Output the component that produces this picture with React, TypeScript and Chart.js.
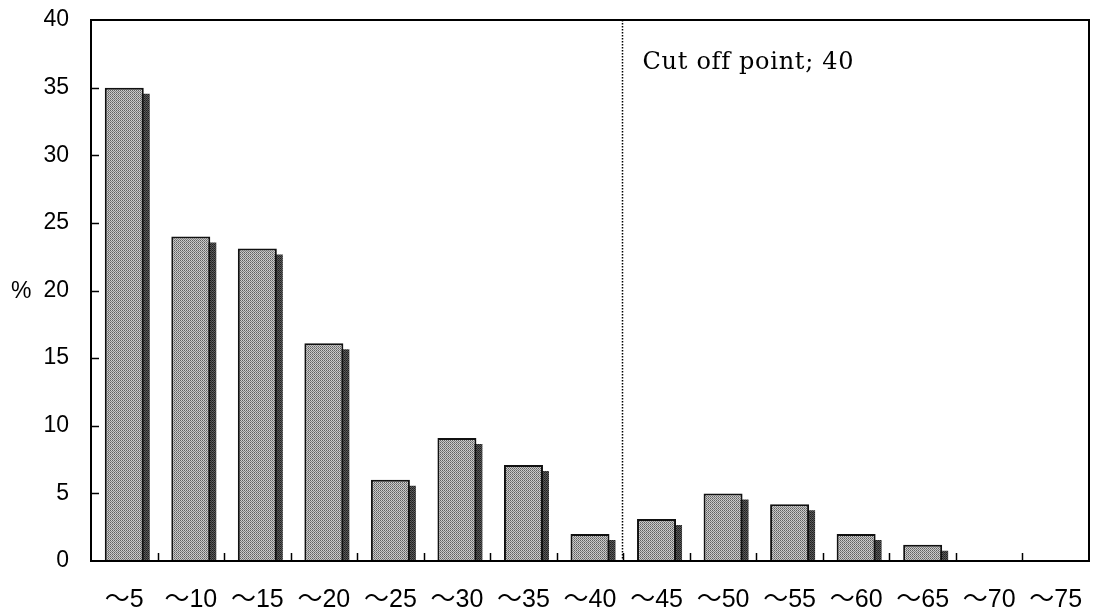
import React, { useEffect, useRef } from "react";
import { Chart, registerables } from "chart.js";

Chart.register(...registerables);

const categories = ["～5", "～10", "～15", "～20", "～25", "～30", "～35", "～40", "～45", "～50", "～55", "～60", "～65", "～70", "～75"];
const percentValues = [35, 24, 23.1, 16.1, 6, 9.1, 7.1, 2, 3.1, 5, 4.2, 2, 1.2, 0, 0];
const yTickValues = [0, 5, 10, 15, 20, 25, 30, 35, 40];
const cutoffAfterIndex = 7;
const cutoffLabel = "Cut off point; 40";
const yAxisLabel = "%";

function makePattern(colors: string[][]) {
  const c = document.createElement("canvas");
  c.width = colors[0].length;
  c.height = colors.length;
  const g = c.getContext("2d")!;
  colors.forEach((row, y) =>
    row.forEach((col, x) => {
      g.fillStyle = col;
      g.fillRect(x, y, 1, 1);
    })
  );
  return g.createPattern(c, "repeat")!;
}

const zeroPad = (s: any) => {
  s.paddingTop = 0;
  s.paddingBottom = 0;
  s.paddingLeft = 0;
  s.paddingRight = 0;
};

const decorPlugin = {
  id: "decor",
  beforeDatasetDraw(chart: any, args: any) {
    if (args.index === 1) {
      const { ctx, chartArea: a } = chart;
      ctx.save();
      ctx.beginPath();
      ctx.rect(a.left, a.top, a.right - a.left, a.bottom - a.top);
      ctx.clip();
      ctx.translate(6, 6);
    }
  },
  afterDatasetDraw(chart: any, args: any) {
    if (args.index === 1) chart.ctx.restore();
  },
  afterDraw(chart: any) {
    const { ctx, chartArea: a } = chart;
    const xs = chart.scales.x;
    const ys = chart.scales.y;
    ctx.save();
    ctx.strokeStyle = "#000";
    ctx.lineWidth = 1.5;
    yTickValues.forEach((v) => {
      if (v === 0 || v === 40) return;
      const y = Math.round(ys.getPixelForValue(v)) + 0.5;
      ctx.beginPath();
      ctx.moveTo(a.left, y);
      ctx.lineTo(a.left + 8, y);
      ctx.stroke();
    });
    for (let i = 1; i < categories.length; i++) {
      const x = Math.round((xs.getPixelForValue(i - 1) + xs.getPixelForValue(i)) / 2) + 0.5;
      ctx.beginPath();
      ctx.moveTo(x, a.bottom);
      ctx.lineTo(x, a.bottom - 8);
      ctx.stroke();
    }
    ctx.lineWidth = 2;
    ctx.strokeRect(a.left, a.top, a.right - a.left, a.bottom - a.top);
    const lx = Math.round((xs.getPixelForValue(cutoffAfterIndex) + xs.getPixelForValue(cutoffAfterIndex + 1)) / 2) - 0.5;
    ctx.lineWidth = 1.5;
    ctx.setLineDash([1.5, 1.5]);
    ctx.beginPath();
    ctx.moveTo(lx, a.top);
    ctx.lineTo(lx, a.bottom);
    ctx.stroke();
    ctx.setLineDash([]);
    ctx.fillStyle = "#000";
    ctx.font = "24px 'DejaVu Serif', 'Liberation Serif', serif";
    try {
      (ctx as any).letterSpacing = "0.7px";
    } catch (e) {}
    ctx.textAlign = "left";
    ctx.textBaseline = "alphabetic";
    ctx.fillText(cutoffLabel, lx + 20, a.top + 49);
    try {
      (ctx as any).letterSpacing = "0px";
    } catch (e) {}
    ctx.font = "23px 'Liberation Sans', Arial, sans-serif";
    ctx.textBaseline = "middle";
    ctx.fillText(yAxisLabel, 11, ys.getPixelForValue(20) + 1);
    ctx.restore();
  },
};

export default function App() {
  const ref = useRef<HTMLCanvasElement | null>(null);
  useEffect(() => {
    if (!ref.current) return;
    const mainPattern = makePattern([
      ["#606060", "#d0d0d0"],
      ["#c4c4c4", "#808080"],
    ]);
    const shadowPattern = makePattern([
      ["#1e1e1e", "#555555"],
      ["#606060", "#2e2e2e"],
    ]);
    const chart = new Chart(ref.current, {
      type: "bar",
      data: {
        labels: categories,
        datasets: [
          {
            data: percentValues,
            backgroundColor: mainPattern as any,
            borderColor: "#111",
            borderWidth: 2,
            grouped: false,
            barPercentage: 0.586,
            categoryPercentage: 1,
          },
          {
            data: percentValues,
            backgroundColor: shadowPattern as any,
            borderWidth: 0,
            grouped: false,
            barPercentage: 0.586,
            categoryPercentage: 1,
          },
        ],
      },
      options: {
        animation: false,
        responsive: true,
        maintainAspectRatio: false,
        layout: { padding: { top: 20, right: 4, left: 0, bottom: 0 } },
        plugins: { legend: { display: false }, tooltip: { enabled: false } },
        scales: {
          x: {
            grid: { display: false, drawTicks: false },
            border: { display: false },
            ticks: {
              color: "#000",
              padding: 24,
              maxRotation: 0,
              autoSkip: false,
              font: { family: "'Liberation Sans', 'Noto Sans CJK JP', sans-serif", size: 25 },
            },
            afterFit: (s: any) => {
              s.height = 54;
              zeroPad(s);
            },
          },
          y: {
            min: 0,
            max: 40,
            grid: { display: false, drawTicks: false },
            border: { display: false },
            ticks: {
              stepSize: 5,
              color: "#000",
              padding: 22,
              font: { family: "'Liberation Sans', Arial, sans-serif", size: 23 },
            },
            afterFit: (s: any) => {
              s.width = 91;
              zeroPad(s);
            },
          },
        },
      },
      plugins: [decorPlugin],
    });
    return () => chart.destroy();
  }, []);
  return (
    <div style={{ position: "absolute", left: 0, top: 0, width: 1093, height: 615, background: "#fff" }}>
      <canvas ref={ref} />
    </div>
  );
}
